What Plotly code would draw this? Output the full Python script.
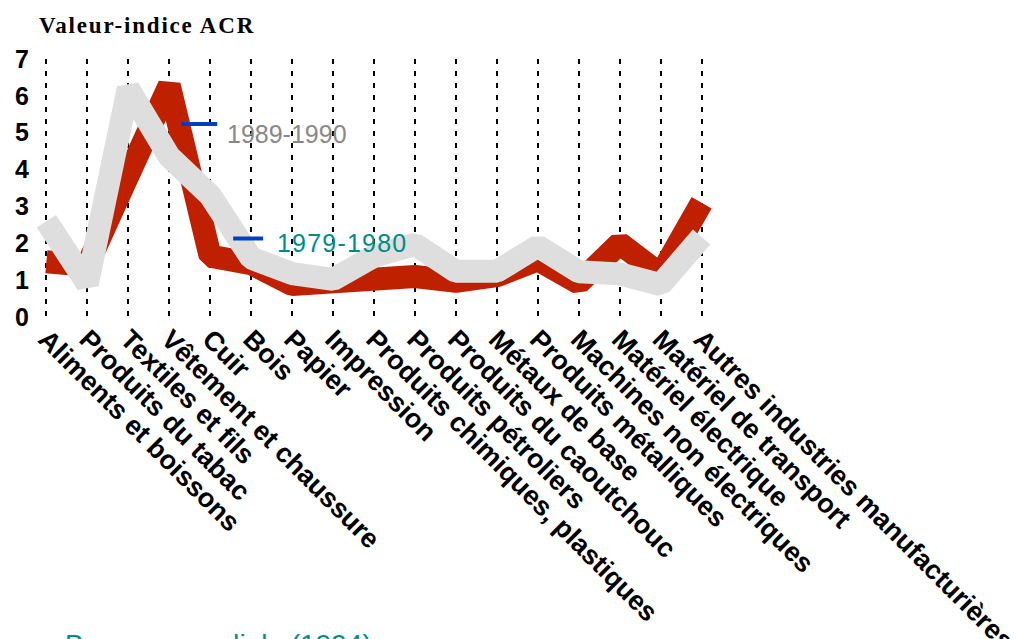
import plotly.graph_objects as go

# ---------------- data ----------------
categories = [
    "Aliments et boissons", "Produits du tabac", "Textiles et fils",
    "Vêtement et chaussure", "Cuir", "Bois", "Papier", "Impression",
    "Produits chimiques, plastiques", "Produits pétroliers",
    "Produits du caoutchouc", "Métaux de base", "Produits métalliques",
    "Machines non électriques", "Matériel électrique",
    "Matériel de transport", "Autres industries manufacturières",
]
acr_1979_1980 = [1.5, 1.4, 3.85, 6.28, 1.65, 1.45, 0.88, 0.92, 1.08, 1.1,
                 0.97, 1.12, 1.55, 0.92, 2.0, 1.15, 3.1]
acr_1989_1990 = [2.6, 0.9, 6.2, 4.35, 3.3, 1.6, 1.18, 1.02, 1.65, 1.97,
                 1.24, 1.24, 1.92, 1.23, 1.17, 0.88, 2.17]
y_ticks = [0, 1, 2, 3, 4, 5, 6, 7]
series_names = ["1989-1990", "1979-1980"]
title_text = "Valeur-indice ACR"
source_text = "Source : Banque mondiale (1994)"

# ---------------- layout geometry ----------------
W, H = 1016, 639
L, T = 29.6, 59
PW, PH = 688.8, 258
R = W - L - PW
B = H - T - PH


def px(xp):
    return (xp - L) / PW


def py(yp):
    return (T + PH - yp) / PH


RED = "#BF2000"
GRAY = "#DEDEDE"
BLUE = "#0040C0"
TEAL = "#008B8B"
LABEL_GRAY = "#888888"

fig = go.Figure()
fig.add_trace(go.Scatter(x=categories, y=acr_1979_1980, mode="lines",
                         line=dict(color=RED, width=23),
                         showlegend=False, hoverinfo="skip"))
fig.add_trace(go.Scatter(x=categories, y=acr_1989_1990, mode="lines",
                         line=dict(color=GRAY, width=23),
                         showlegend=False, hoverinfo="skip"))

shapes = [
    dict(type="line", xref="paper", yref="paper", x0=px(181), x1=px(217),
         y0=py(124), y1=py(124), line=dict(color=BLUE, width=4)),
    dict(type="line", xref="paper", yref="paper", x0=px(233), x1=px(263),
         y0=py(238.5), y1=py(238.5), line=dict(color=BLUE, width=4)),
]

annotations = [
    dict(text=title_text, xref="paper", yref="paper", x=px(37), y=py(11.5),
         xanchor="left", yanchor="top", align="left", showarrow=False,
         font=dict(family="Liberation Serif", size=23, color="#000000",
                   weight="bold")),
    dict(text=series_names[0], xref="paper", yref="paper", x=px(225),
         y=py(134), xanchor="left", yanchor="middle", align="left",
         showarrow=False,
         font=dict(family="Liberation Sans", size=25, color=LABEL_GRAY)),
    dict(text=series_names[1], xref="paper", yref="paper", x=px(275),
         y=py(243.5), xanchor="left", yanchor="middle", align="left",
         showarrow=False,
         font=dict(family="Liberation Sans", size=25, color=TEAL)),
    dict(text=source_text, xref="paper", yref="paper", x=px(-49),
         y=py(626.5), xanchor="left", yanchor="top", align="left",
         showarrow=False,
         font=dict(family="Liberation Sans", size=28, color=TEAL)),
]

fig.update_layout(
    width=W, height=H,
    margin=dict(l=L, r=R, t=T, b=B, pad=0, autoexpand=False),
    paper_bgcolor="white", plot_bgcolor="white",
    showlegend=False,
    shapes=shapes, annotations=annotations,
    xaxis=dict(
        type="category", range=[-0.4, 16.4], automargin=False,
        showgrid=True, gridcolor="#000000", gridwidth=2,
        griddash="5px,7px",
        showline=False, zeroline=False, ticks="",
        tickangle=45,
        tickfont=dict(family="Liberation Sans", size=27, color="#000000",
                      weight="bold"),
    ),
    yaxis=dict(
        range=[0, 7], tickvals=y_ticks, automargin=False,
        showgrid=False, showline=False, zeroline=False, ticks="",
        tickfont=dict(family="Liberation Sans", size=25, color="#000000",
                      weight="bold"),
    ),
)

post = """
var s=document.createElement('style');
s.textContent='.scatterlayer .js-line{stroke-linejoin:bevel !important;}';
document.head.appendChild(s);
document.querySelectorAll('.annotation-text').forEach(function(t){
  if(t.textContent.indexOf('Valeur')===0){ t.style.letterSpacing='1.8px'; }
  if(t.textContent.indexOf('1979')===0){ t.style.letterSpacing='1.2px'; }
});
"""

fig.write_html("out.html", post_script=post,
               config={"displayModeBar": False, "responsive": False})
